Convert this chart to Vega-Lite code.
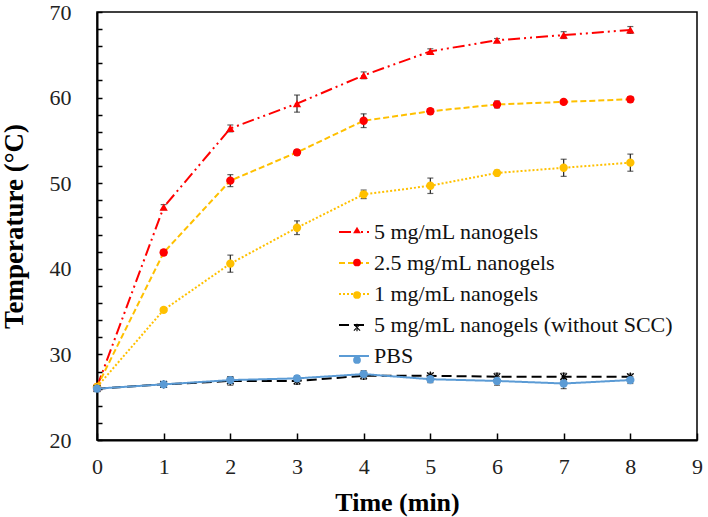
{
  "$schema": "https://vega.github.io/schema/vega-lite/v6.json",
  "width": 600,
  "height": 428,
  "autosize": {"type": "none"},
  "padding": {"left": 97, "top": 12, "right": 11, "bottom": 77},
  "background": "white",
  "config": {
    "view": {"stroke": "#000", "strokeWidth": 1.5},
    "axis": {"grid": false, "domainColor": "#000", "domainWidth": 2, "tickColor": "#000", "tickWidth": 1.5,
      "labelFont": "Liberation Serif", "labelFontSize": 22, "labelColor": "#222",
      "titleFont": "Liberation Serif", "titleFontWeight": "bold", "titleColor": "#000"},
    "legend": {"title": null, "orient": "none", "labelFont": "Liberation Serif", "labelFontSize": 22, "labelColor": "#111", "labelOffset": 4, "labelLimit": 500}
  },
  "resolve": {"scale": {"color": "independent"}, "legend": {"color": "independent", "strokeDash": "independent", "shape": "independent"}},
  "data": {"values": [
    {"series": "5 mg/mL nanogels", "t": 0, "temp": 26.2, "err": 0.2},
    {"series": "5 mg/mL nanogels", "t": 1, "temp": 47.2, "err": 0.3},
    {"series": "5 mg/mL nanogels", "t": 2, "temp": 56.4, "err": 0.4},
    {"series": "5 mg/mL nanogels", "t": 3, "temp": 59.3, "err": 1.0},
    {"series": "5 mg/mL nanogels", "t": 4, "temp": 62.6, "err": 0.4},
    {"series": "5 mg/mL nanogels", "t": 5, "temp": 65.4, "err": 0.3},
    {"series": "5 mg/mL nanogels", "t": 6, "temp": 66.7, "err": 0.2},
    {"series": "5 mg/mL nanogels", "t": 7, "temp": 67.3, "err": 0.4},
    {"series": "5 mg/mL nanogels", "t": 8, "temp": 67.9, "err": 0.4},
    {"series": "2.5 mg/mL nanogels", "t": 0, "temp": 26.2, "err": 0.2},
    {"series": "2.5 mg/mL nanogels", "t": 1, "temp": 41.9, "err": 0.3},
    {"series": "2.5 mg/mL nanogels", "t": 2, "temp": 50.3, "err": 0.7},
    {"series": "2.5 mg/mL nanogels", "t": 3, "temp": 53.6, "err": 0.3},
    {"series": "2.5 mg/mL nanogels", "t": 4, "temp": 57.3, "err": 0.8},
    {"series": "2.5 mg/mL nanogels", "t": 5, "temp": 58.4, "err": 0.3},
    {"series": "2.5 mg/mL nanogels", "t": 6, "temp": 59.2, "err": 0.4},
    {"series": "2.5 mg/mL nanogels", "t": 7, "temp": 59.5, "err": 0.2},
    {"series": "2.5 mg/mL nanogels", "t": 8, "temp": 59.8, "err": 0.3},
    {"series": "1 mg/mL nanogels", "t": 0, "temp": 26.2, "err": 0.2},
    {"series": "1 mg/mL nanogels", "t": 1, "temp": 35.2, "err": 0.2},
    {"series": "1 mg/mL nanogels", "t": 2, "temp": 40.6, "err": 1.0},
    {"series": "1 mg/mL nanogels", "t": 3, "temp": 44.8, "err": 0.8},
    {"series": "1 mg/mL nanogels", "t": 4, "temp": 48.7, "err": 0.5},
    {"series": "1 mg/mL nanogels", "t": 5, "temp": 49.7, "err": 0.9},
    {"series": "1 mg/mL nanogels", "t": 6, "temp": 51.2, "err": 0.3},
    {"series": "1 mg/mL nanogels", "t": 7, "temp": 51.8, "err": 1.0},
    {"series": "1 mg/mL nanogels", "t": 8, "temp": 52.4, "err": 1.0},
    {"series": "5 mg/mL nanogels (without SCC)", "t": 0, "temp": 26.0, "err": 0.2},
    {"series": "5 mg/mL nanogels (without SCC)", "t": 1, "temp": 26.5, "err": 0.3},
    {"series": "5 mg/mL nanogels (without SCC)", "t": 2, "temp": 26.9, "err": 0.5},
    {"series": "5 mg/mL nanogels (without SCC)", "t": 3, "temp": 26.9, "err": 0.4},
    {"series": "5 mg/mL nanogels (without SCC)", "t": 4, "temp": 27.5, "err": 0.4},
    {"series": "5 mg/mL nanogels (without SCC)", "t": 5, "temp": 27.5, "err": 0.3},
    {"series": "5 mg/mL nanogels (without SCC)", "t": 6, "temp": 27.4, "err": 0.4},
    {"series": "5 mg/mL nanogels (without SCC)", "t": 7, "temp": 27.4, "err": 0.4},
    {"series": "5 mg/mL nanogels (without SCC)", "t": 8, "temp": 27.4, "err": 0.3},
    {"series": "PBS", "t": 0, "temp": 26.0, "err": 0.3},
    {"series": "PBS", "t": 1, "temp": 26.5, "err": 0.3},
    {"series": "PBS", "t": 2, "temp": 27.0, "err": 0.4},
    {"series": "PBS", "t": 3, "temp": 27.2, "err": 0.3},
    {"series": "PBS", "t": 4, "temp": 27.7, "err": 0.4},
    {"series": "PBS", "t": 5, "temp": 27.1, "err": 0.4},
    {"series": "PBS", "t": 6, "temp": 26.9, "err": 0.5},
    {"series": "PBS", "t": 7, "temp": 26.6, "err": 0.6},
    {"series": "PBS", "t": 8, "temp": 27.0, "err": 0.4}
  ]},
  "encoding": {
    "x": {"field": "t", "type": "quantitative", "title": "Time (min)",
      "scale": {"domain": [0, 9], "nice": false},
      "axis": {"values": [0,1,2,3,4,5,6,7,8,9], "tickSize": -7, "labelPadding": 23, "titlePadding": 12, "titleFontSize": 26, "labelFlush": false}},
    "y": {"field": "temp", "type": "quantitative", "title": "Temperature (°C)",
      "scale": {"domain": [20, 70], "nice": false, "zero": false},
      "axis": {"values": [20,22,24,26,28,30,32,34,36,38,40,42,44,46,48,50,52,54,56,58,60,62,64,66,68,70],
        "labelExpr": "datum.value % 10 === 0 ? datum.label : ''", "tickSize": -5, "labelPadding": 31, "titlePadding": 21, "titleFontSize": 27, "labelFlush": false}}
  },
  "layer": [
    {
      "mark": {"type": "line", "strokeWidth": 2},
      "encoding": {
        "color": {"field": "series", "type": "nominal",
          "scale": {"domain": ["5 mg/mL nanogels", "2.5 mg/mL nanogels", "1 mg/mL nanogels", "5 mg/mL nanogels (without SCC)", "PBS"],
            "range": ["#FF0000", "#FFC000", "#FFC000", "#000000", "#5B9BD5"]},
          "legend": {"legendX": 241, "legendY": 204, "symbolType": "stroke", "symbolSize": 900, "symbolStrokeWidth": 2, "rowPadding": 4}},
        "strokeDash": {"field": "series", "type": "nominal",
          "scale": {"domain": ["5 mg/mL nanogels", "2.5 mg/mL nanogels", "1 mg/mL nanogels", "5 mg/mL nanogels (without SCC)", "PBS"],
            "range": [[12, 4, 2, 4, 2, 4], [6, 3], [2, 2], [10, 5], [1, 0]]},
          "legend": {"legendX": 241, "legendY": 204, "symbolType": "stroke", "symbolSize": 900, "symbolStrokeWidth": 2, "rowPadding": 4}}
      }
    },
    {
      "mark": {"type": "errorbar", "ticks": {"size": 6, "color": "#222"}, "color": "#222", "thickness": 1.2},
      "encoding": {"yError": {"field": "err"}}
    },
    {
      "mark": {"type": "point", "filled": true, "size": 70, "strokeWidth": 1.5, "opacity": 1},
      "encoding": {
        "shape": {"field": "series", "type": "nominal",
          "scale": {"domain": ["5 mg/mL nanogels", "2.5 mg/mL nanogels", "1 mg/mL nanogels", "5 mg/mL nanogels (without SCC)", "PBS"],
            "range": ["triangle-up", "circle", "circle", "M-0.15,-1L0.15,-1L0.15,1L-0.15,1ZM-0.9,-0.7L-0.7,-0.9L0.9,0.7L0.7,0.9ZM-0.9,0.7L-0.7,0.9L0.9,-0.7L0.7,-0.9Z", "circle"]},
          "legend": {"legendX": 249, "legendY": 207, "symbolSize": 60, "symbolStrokeWidth": 1.5, "rowPadding": 10.5, "labelExpr": "''"}},
        "color": {"field": "series", "type": "nominal",
          "scale": {"domain": ["5 mg/mL nanogels", "2.5 mg/mL nanogels", "1 mg/mL nanogels", "5 mg/mL nanogels (without SCC)", "PBS"],
            "range": ["#FF0000", "#FF0000", "#FFC000", "#000000", "#5B9BD5"]},
          "legend": {"legendX": 249, "legendY": 207, "symbolSize": 60, "symbolStrokeWidth": 1.5, "rowPadding": 10.5, "labelExpr": "''"}}
      }
    }
  ]
}
